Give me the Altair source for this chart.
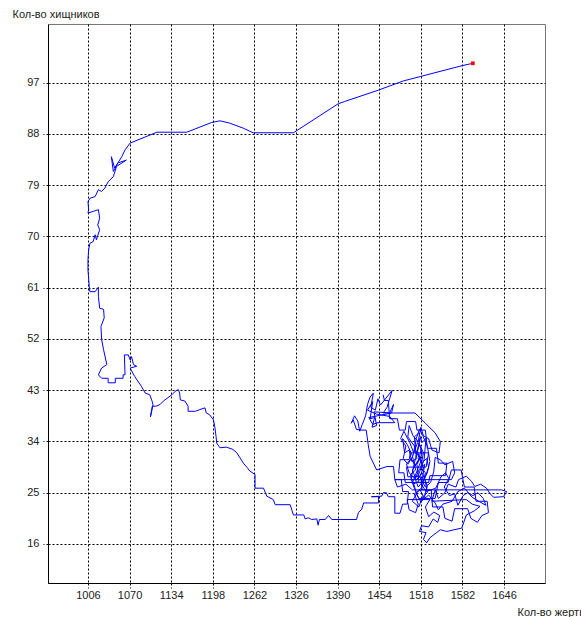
import altair as alt
import pandas as pd

# Axis tick values
x_ticks = [1006, 1070, 1134, 1198, 1262, 1326, 1390, 1454, 1518, 1582, 1646]
y_ticks = [16, 25, 34, 43, 52, 61, 70, 79, 88, 97]

# Trajectory (prey, predators), starting at the red point
path_top = [
    (1598, 100.4), (1582, 100.0), (1518, 98.1), (1491, 97.3), (1453, 95.7), (1401, 93.7),
    (1391, 93.3), (1322, 88.2), (1260, 88.2), (1245, 89.0), (1224, 89.9), (1209, 90.3),
    (1196, 90.0), (1158, 88.3), (1112, 88.3), (1071, 86.4), (1063, 85.2), (1058, 84.0),
    (1053, 83.1), (1047, 82.0), (1042, 84.0), (1045, 81.4), (1052, 82.9), (1065, 83.4),
    (1050, 82.3), (1045, 80.5), (1037, 79.6), (1032, 78.5), (1027, 77.9), (1022, 78.2),
    (1017, 77.0), (1009, 76.7), (1006, 76.1), (1007, 74.7), (1006, 74.1), (1014, 74.4),
    (1022, 74.7), (1024, 73.2), (1021, 72.0), (1024, 71.2), (1019, 69.4), (1017, 70.3),
    (1014, 69.1), (1009, 68.8), (1007, 67.6), (1006, 65.9), (1006, 64.1), (1008, 61.2),
    (1009, 60.3), (1017, 60.3), (1022, 61.1), (1022, 59.5), (1024, 57.4), (1030, 57.2),
    (1031, 55.7), (1026, 54.2), (1027, 51.9), (1030, 50.1), (1035, 47.5), (1027, 46.9),
    (1022, 45.7), (1027, 45.1), (1037, 45.1), (1037, 44.3), (1048, 44.3), (1048, 45.1),
    (1060, 45.1), (1060, 45.7), (1063, 45.7), (1062, 49.2), (1068, 49.2), (1071, 48.3),
    (1073, 48.9), (1076, 47.5), (1081, 47.2), (1071, 46.9), (1072, 46.6), (1078, 45.4),
    (1088, 43.7), (1094, 42.5), (1101, 42.2), (1104, 41.3), (1106, 40.5), (1104, 39.3),
    (1102, 38.3), (1105, 40.2), (1111, 40.2), (1117, 40.5), (1122, 41.1), (1135, 42.2),
    (1140, 42.8), (1145, 43.1), (1147, 42.5), (1148, 41.3), (1155, 41.1), (1160, 40.2),
    (1160, 39.3), (1171, 39.3), (1178, 39.6), (1186, 39.9), (1188, 39.0), (1193, 38.7),
    (1199, 37.8), (1201, 36.6), (1203, 34.9), (1204, 33.7), (1209, 32.9), (1219, 33.0),
    (1229, 32.6), (1235, 32.0), (1240, 31.1), (1245, 30.2), (1251, 29.4), (1255, 28.8),
    (1263, 28.2), (1263, 25.8), (1276, 25.8), (1281, 24.4), (1291, 23.8), (1294, 22.9),
    (1317, 22.9), (1322, 21.1), (1338, 21.1), (1340, 20.4), (1345, 20.6), (1350, 20.3),
    (1358, 20.4), (1360, 19.3), (1362, 20.3), (1371, 20.3), (1376, 21.0), (1381, 20.3),
    (1419, 20.3), (1422, 21.5), (1427, 22.1), (1430, 23.2), (1453, 23.2), (1453, 24.3),
]

path_cluster = [
    (1442, 24.3), (1458, 24.4), (1460, 25.0), (1465, 25.0), (1468, 24.3), (1478, 24.3),
    (1478, 21.4), (1486, 21.4), (1490, 23.0), (1497, 23.0), (1499, 25.2), (1490, 25.2),
    (1488, 27.3), (1478, 27.3), (1476, 29.6), (1466, 29.6), (1450, 29.0), (1440, 31.4),
    (1437, 33.5), (1434, 36.0), (1427, 36.0), (1419, 36.1), (1414, 37.8), (1411, 37.2),
    (1416, 38.5), (1421, 37.6), (1424, 35.8), (1428, 37.0), (1433, 38.5), (1436, 40.5),
    (1440, 41.8), (1445, 42.5), (1441, 40.0), (1448, 39.5), (1452, 41.5), (1456, 40.4),
    (1474, 43.0), (1466, 40.0), (1460, 39.0), (1470, 39.0), (1476, 40.5), (1473, 39.0),
    (1438, 38.2), (1444, 37.0), (1452, 37.3), (1478, 37.3), (1470, 38.4), (1450, 38.8),
    (1436, 39.5), (1444, 41.0), (1440, 38.0), (1447, 38.2), (1443, 36.5), (1450, 36.8),
    (1446, 39.2), (1473, 39.0), (1509, 39.0), (1525, 37.2), (1540, 35.5), (1548, 34.0),
    (1546, 32.0), (1535, 32.5), (1530, 34.5), (1522, 35.0), (1518, 36.5), (1514, 34.0),
    (1506, 35.0), (1500, 36.8), (1498, 34.8), (1508, 33.2), (1512, 31.0), (1504, 30.5),
    (1500, 32.5), (1493, 32.0), (1490, 34.5), (1497, 33.5), (1505, 31.5), (1510, 29.0),
    (1502, 28.2), (1506, 26.5), (1515, 27.0), (1512, 30.0), (1520, 31.8), (1516, 33.5),
    (1522, 32.0), (1518, 29.5), (1525, 28.5), (1520, 26.0), (1512, 25.0), (1505, 23.5),
    (1515, 22.5), (1520, 24.2), (1528, 25.0), (1524, 27.5), (1530, 29.5), (1527, 31.0),
    (1519, 30.2), (1510, 32.5), (1508, 34.8), (1515, 35.5), (1520, 33.8), (1526, 34.6),
    (1523, 30.8), (1514, 28.0), (1508, 27.6), (1500, 28.5), (1496, 30.0), (1503, 31.0),
    (1509, 29.8), (1517, 31.3), (1522, 29.3), (1516, 27.8), (1525, 26.0), (1533, 26.8),
    (1538, 28.8), (1540, 31.2), (1548, 30.8), (1555, 29.9), (1567, 30.5), (1570, 28.5),
    (1565, 27.3), (1478, 27.3), (1482, 26.0), (1495, 26.5), (1505, 25.5), (1637, 25.5),
    (1642, 25.5), (1650, 25.2), (1645, 24.3), (1630, 24.2), (1624, 24.9), (1619, 25.8),
    (1610, 26.5), (1601, 26.1), (1596, 27.0), (1588, 27.9), (1576, 27.3), (1572, 26.0),
    (1560, 26.5), (1555, 25.0), (1545, 24.0), (1540, 25.5), (1535, 23.5), (1588, 23.8),
    (1597, 23.0), (1609, 22.6), (1600, 21.8), (1588, 21.1), (1581, 18.8), (1558, 18.2),
    (1548, 18.5), (1532, 17.1), (1527, 16.2), (1522, 16.8), (1526, 18.0), (1516, 18.2),
    (1519, 19.2), (1530, 19.0), (1537, 20.4), (1544, 19.8), (1547, 21.0), (1538, 21.6),
    (1530, 20.8), (1525, 22.5), (1532, 23.8), (1497, 23.8), (1500, 22.0), (1510, 21.5),
    (1514, 23.0), (1508, 24.8), (1517, 25.5), (1523, 24.0), (1528, 26.2), (1520, 28.5),
    (1511, 27.2), (1505, 29.0), (1514, 30.5), (1519, 32.8), (1513, 33.8), (1507, 32.0),
    (1501, 33.8), (1492, 35.8), (1487, 34.5), (1495, 33.2), (1491, 31.0), (1498, 30.0),
    (1506, 31.5), (1511, 34.5), (1516, 36.2), (1521, 35.0), (1528, 33.2), (1532, 30.5),
    (1528, 28.5), (1521, 27.0), (1514, 26.0), (1509, 27.5), (1516, 29.2), (1524, 30.0),
    (1519, 26.5), (1526, 25.2), (1541, 25.8), (1549, 27.8), (1556, 28.5), (1561, 27.5),
    (1554, 26.0), (1562, 24.5), (1570, 24.8), (1575, 22.8), (1583, 24.5), (1590, 25.0),
    (1598, 24.5), (1606, 25.0), (1614, 24.0), (1618, 22.8), (1607, 23.5), (1597, 24.2),
    (1585, 25.8), (1575, 25.2), (1566, 23.5), (1552, 23.0), (1545, 22.0), (1540, 23.2),
    (1530, 24.6), (1518, 23.4), (1512, 24.6), (1506, 27.0), (1512, 28.8), (1518, 30.5),
    (1513, 32.2), (1517, 34.6), (1510, 31.2), (1503, 27.5), (1508, 25.8), (1515, 24.0),
    (1540, 24.0), (1545, 26.8), (1560, 26.8), (1565, 29.0), (1580, 29.0), (1585, 26.0),
    (1600, 26.0), (1603, 23.5), (1620, 23.5), (1622, 21.5), (1612, 21.0), (1605, 19.8),
    (1595, 20.5), (1590, 22.2), (1570, 22.2), (1566, 20.0), (1555, 20.5), (1552, 22.5),
    (1536, 22.5), (1534, 25.5), (1520, 25.5), (1518, 27.8), (1498, 27.8), (1496, 29.5),
    (1526, 29.5), (1530, 32.0), (1502, 32.0), (1500, 30.8), (1486, 30.8), (1484, 28.5),
    (1492, 28.5), (1494, 26.8), (1530, 26.8), (1532, 28.0), (1556, 28.0), (1558, 30.2),
    (1545, 30.2), (1542, 32.8), (1528, 32.8), (1525, 36.0), (1512, 36.0), (1510, 37.5),
    (1496, 37.5), (1494, 36.0), (1485, 36.0), (1482, 38.0), (1470, 38.0), (1468, 41.2),
    (1462, 41.2), (1460, 42.2),
]

prey = [p for p, _ in path_top + path_cluster]
pred = [q for _, q in path_top + path_cluster]
end_prey = [1598]
end_pred = [100.4]

df = pd.DataFrame({"i": list(range(len(prey))), "prey": prey, "pred": pred})
df_end = pd.DataFrame({"prey": end_prey, "pred": end_pred})

FONT = "Liberation Sans"

x_scale = alt.Scale(domain=[944.5, 1709], nice=False, zero=False)
y_scale = alt.Scale(domain=[9.15, 107.3], nice=False, zero=False)

x_axis = alt.Axis(
    values=x_ticks, format="d", title="Кол-во жертв",
    titleX=469, titleY=32, titleAlign="left", titleBaseline="alphabetic",
    titleFontWeight="normal", titleFontSize=11, titleFont=FONT, titleColor="#222",
    labelPadding=1,
)
y_axis = alt.Axis(
    values=y_ticks, format="d", title="Кол-во хищников",
    titleAngle=0, titleX=-36, titleY=-7, titleAlign="left", titleBaseline="alphabetic",
    titleFontWeight="normal", titleFontSize=11, titleFont=FONT, titleColor="#222",
    labelPadding=4,
)

line = alt.Chart(df).mark_line(color="#0000ff", strokeWidth=1, clip=True).encode(
    x=alt.X("prey:Q", scale=x_scale, axis=x_axis),
    y=alt.Y("pred:Q", scale=y_scale, axis=y_axis),
    order=alt.Order("i:Q"),
)

dot = alt.Chart(df_end).mark_square(color="#ff0000", size=14, opacity=1).encode(
    x=alt.X("prey:Q", scale=x_scale),
    y=alt.Y("pred:Q", scale=y_scale),
)

chart = (
    alt.layer(line, dot)
    .properties(
        width=497, height=559,
        autosize=alt.AutoSizeParams(type="none"),
        padding={"left": 48, "top": 24, "right": 36, "bottom": 34},
        background="white",
    )
    .configure_view(stroke="#777777", strokeWidth=1)
    .configure_axis(
        grid=True, gridColor="#000000", gridDash=[2, 2], gridOpacity=1, gridWidth=1,
        domainColor="#000000", domainWidth=1,
        tickColor="#000000", tickDash=[2, 2], tickSize=5, tickWidth=1,
        labelFont=FONT, labelFontSize=11, labelColor="#222222",
    )
)

chart.save("out.html", embed_options={"renderer": "svg", "actions": False})
